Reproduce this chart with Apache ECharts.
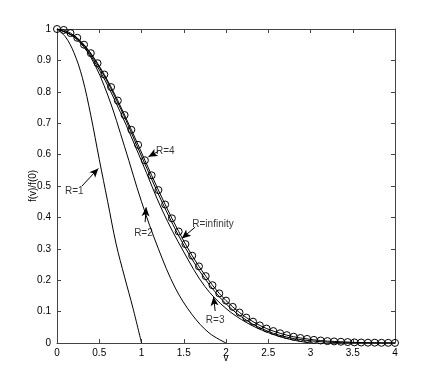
<!DOCTYPE html>
<html>
<head>
<meta charset="utf-8">
<script src="https://cdn.jsdelivr.net/npm/echarts@6/dist/echarts.min.js"></script>
<style>
  html, body { margin: 0; padding: 0; background: #fff; }
  #chart { width: 436px; height: 386px; }
</style>
</head>
<body>
<div id="chart"></div>
<script>
  // values
  const vInf = [0, 0.08, 0.16, 0.24, 0.32, 0.4, 0.48, 0.56, 0.64, 0.72, 0.8, 0.88, 0.96, 1.04, 1.12, 1.2, 1.28,
    1.36, 1.44, 1.52, 1.6, 1.68, 1.76, 1.84, 1.92, 2, 2.08, 2.16, 2.24, 2.32, 2.4, 2.48, 2.56, 2.64, 2.72,
    2.8, 2.88, 2.96, 3.04, 3.12, 3.2, 3.28, 3.36, 3.44, 3.52, 3.6, 3.68, 3.76, 3.84, 3.92, 4]
  const fInf = [1, 0.997, 0.987, 0.972, 0.950, 0.923, 0.891, 0.855, 0.815, 0.772, 0.726, 0.679, 0.631, 0.582,
    0.534, 0.487, 0.441, 0.397, 0.355, 0.315, 0.278, 0.244, 0.213, 0.184, 0.158, 0.135, 0.115, 0.097, 0.081,
    0.068, 0.056, 0.046, 0.038, 0.031, 0.025, 0.020, 0.016, 0.013, 0.010, 0.008, 0.006, 0.005, 0.004, 0.003,
    0.002, 0.0015, 0.001, 0.001, 0.0006, 0.0005, 0.0003]

  const vR1 = [0, 0.1, 0.2, 0.3, 0.4, 0.5, 0.6, 0.7, 0.8, 0.9, 1]
  const fR1 = [1, 0.975, 0.925, 0.845, 0.725, 0.585, 0.45, 0.315, 0.21, 0.11, 0]

  const vR2 = [0, 0.2, 0.4, 0.6, 0.8, 1, 1.2, 1.4, 1.6, 1.8, 2]
  const fR2 = [1, 0.975, 0.91, 0.79, 0.625, 0.45, 0.3, 0.175, 0.09, 0.032, 0]

  const vR3 = [0, 0.25, 0.5, 0.75, 1, 1.25, 1.5, 1.75, 2, 2.25, 2.5, 2.75, 3]
  const fR3 = [1, 0.966, 0.87, 0.735, 0.58, 0.42, 0.29, 0.18, 0.11, 0.064, 0.033, 0.012, 0]

  const vR4 = [0, 0.25, 0.5, 0.75, 1, 1.25, 1.5, 1.75, 2, 2.25, 2.5, 2.75, 3, 3.25, 3.5, 3.75, 4]
  const fR4 = [1, 0.968, 0.878, 0.748, 0.595, 0.445, 0.312, 0.205, 0.125, 0.071, 0.037, 0.017, 0.007, 0.002,
    0.0005, 0.0001, 0]

  // labels: text centre [v, f], arrow from [v, f] to [v, f]
  const noteText = ['R=1', 'R=2', 'R=3', 'R=4', 'R=infinity']
  const noteAt = [[0.204, 0.482], [1.023, 0.351], [1.872, 0.073], [1.282, 0.611], [1.846, 0.378]]
  const arrowFrom = [[0.296, 0.5], [1.043, 0.385], [1.872, 0.102], [1.197, 0.61], [1.635, 0.369]]
  const arrowTo = [[0.489, 0.556], [1.055, 0.432], [1.852, 0.147], [1.082, 0.593], [1.477, 0.333]]

  const xTicks = [0, 0.5, 1, 1.5, 2, 2.5, 3, 3.5, 4]

  const zip = (xs, ys) => xs.map((x, i) => [x, ys[i]])
  const font = 'Liberation Sans'

  let chart = echarts.init(document.getElementById('chart'))

  const curve = (name, xs, ys) => ({
    name: name,
    type: 'line',
    data: zip(xs, ys),
    showSymbol: false,
    smooth: 0.35,
    lineStyle: { color: '#000', width: 1 },
    silent: true
  })

  const axisCommon = {
    type: 'value',
    axisLine: { show: true, onZero: false, lineStyle: { color: '#444', width: 1 } },
    axisTick: { show: true, inside: true, length: 4, lineStyle: { color: '#444' } },
    splitLine: { show: false }
  }

  chart.setOption({
    animation: false,
    grid: { left: 57, right: 41, top: 29, bottom: 43 },
    xAxis: [
      Object.assign({}, axisCommon, {
        min: 0, max: 4, interval: 0.5,
        name: 'v', nameLocation: 'middle', nameGap: 10, nameMoveOverlap: false,
        nameTextStyle: { fontFamily: font, fontSize: 10, color: '#000' },
        axisLabel: { fontFamily: font, fontSize: 10, color: '#000', margin: 5,
          formatter: v => xTicks.includes(v) ? String(v) : '' }
      }),
      Object.assign({}, axisCommon, {
        position: 'top', min: 0, max: 4, interval: 0.5,
        axisLabel: { show: false }
      })
    ],
    yAxis: [
      Object.assign({}, axisCommon, {
        min: 0, max: 1, interval: 0.1,
        name: 'f(v)/f(0)', nameLocation: 'middle', nameGap: 19, nameMoveOverlap: false,
        nameTextStyle: { fontFamily: font, fontSize: 10, color: '#000' },
        axisLabel: { fontFamily: font, fontSize: 10, color: '#000', margin: 6,
          formatter: v => String(Math.round(v * 10) / 10) }
      }),
      Object.assign({}, axisCommon, {
        position: 'right', min: 0, max: 1, interval: 0.1,
        axisLabel: { show: false }
      })
    ],
    series: [
      curve('R=1', vR1, fR1),
      curve('R=2', vR2, fR2),
      curve('R=3', vR3, fR3),
      curve('R=4', vR4, fR4),
      {
        name: 'R=infinity',
        type: 'line',
        data: zip(vInf, fInf),
        symbol: 'circle',
        symbolSize: 7,
        itemStyle: { color: 'rgba(0,0,0,0)', borderColor: '#000', borderWidth: 1 },
        lineStyle: { color: '#000', width: 1 },
        silent: true
      },
      {
        name: 'notes',
        type: 'scatter',
        symbolSize: 0,
        silent: true,
        data: noteText.map((t, i) => ({ name: t, value: noteAt[i] })),
        label: {
          show: true, position: 'inside', formatter: '{b}',
          fontFamily: font, fontSize: 10, color: '#000'
        },
        markLine: {
          silent: true,
          symbol: ['none', 'arrow'],
          symbolSize: [6, 9],
          label: { show: false },
          lineStyle: { color: '#000', width: 1, type: 'solid' },
          itemStyle: { color: '#000' },
          data: arrowFrom.map((p, i) => [{ coord: p }, { coord: arrowTo[i] }])
        }
      }
    ]
  })
</script>
</body>
</html>
